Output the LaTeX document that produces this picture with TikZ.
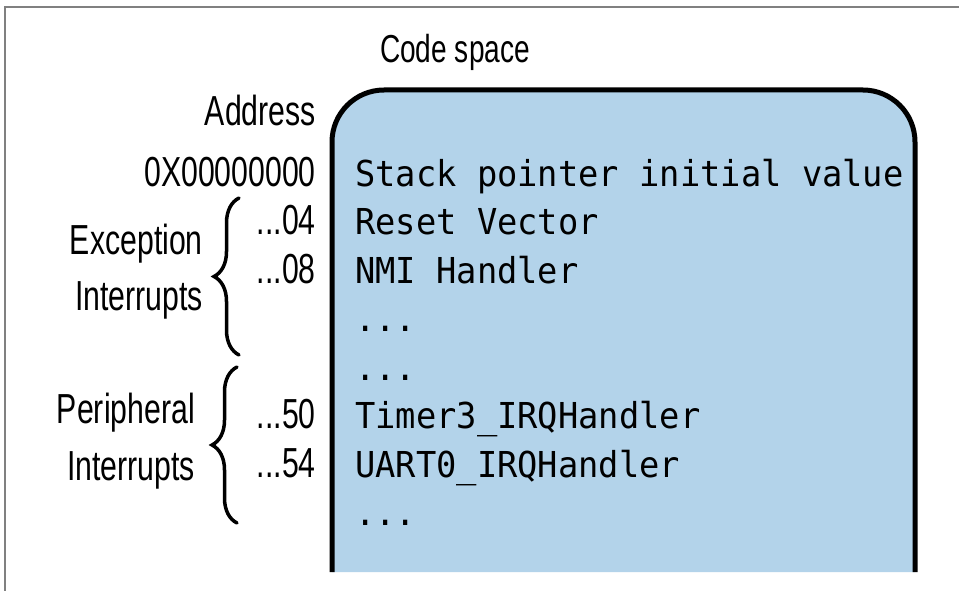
\documentclass[tikz,border=0pt]{standalone}
\usepackage{fontspec}
\setmainfont{Liberation Sans}[FakeStretch=0.72]
\newfontfamily\codefont{DejaVu Sans Mono}[FakeStretch=0.945]
\usetikzlibrary{decorations.pathreplacing}
\definecolor{boxblue}{RGB}{179,211,234}
\definecolor{framegray}{RGB}{128,128,128}
\begin{document}
\begin{tikzpicture}[x=1pt,y=-1pt,
  lbl/.style={font=\fontsize{42}{44}\selectfont, inner sep=0pt},
  titlelbl/.style={font=\fontsize{39}{41}\selectfont, inner sep=0pt, anchor=base},
  codeline/.style={font=\codefont\fontsize{35.7}{38}\selectfont, inner sep=0pt, anchor=base west},
  addr/.style={lbl, anchor=base east},
  grp/.style={lbl, anchor=base east},
  bracestyle/.style={decorate, decoration={brace, amplitude=25pt}, line width=3.5pt, line cap=round}]
\useasboundingbox (0,0) rectangle (959,591);
% frame
\draw[framegray, line width=2] (5,591) -- (5,7) -- (959,7);
% code space box (open at bottom)
\fill[boxblue, rounded corners=52] (332,572) -- (332,90) -- (915,90) -- (915,572);
\draw[line width=5, rounded corners=52] (332,572) -- (332,90) -- (915,90) -- (915,572);
% title
\node[titlelbl] (title) at (455,63) {Code space};
% code lines
\node[codeline] (c1) at (355,186) {Stack pointer initial value};
\node[codeline] (c2) at (355,234.5) {Reset Vector};
\node[codeline] (c3) at (355,283) {NMI Handler};
\node[codeline] (c4) at (355,331.5) {...};
\node[codeline] (c5) at (355,380) {...};
\node[codeline] (c6) at (355,428.5) {Timer3\_IRQHandler};
\node[codeline] (c7) at (355,477) {UART0\_IRQHandler};
\node[codeline] (c8) at (355,525.5) {...};
% addresses
\node[addr] (a0) at (316,126) {Address};
\node[addr] (a1) at (316,186) {0X00000000};
\node[addr] (a2) at (316,234.5) {...04};
\node[addr] (a3) at (316,283) {...08};
\node[addr] (a4) at (316,428.5) {...50};
\node[addr] (a5) at (316,477) {...54};
% group labels
\node[grp] (g1) at (203,254) {Exception};
\node[grp] (g2) at (203,310) {Interrupts};
\node[grp] (g3) at (195,423) {Peripheral};
\node[grp] (g4) at (195,480) {Interrupts};
% braces
\coordinate (eb) at (239,355);
\coordinate (et) at (239,198);
\coordinate (pb) at (237,523);
\coordinate (pt) at (237,367);
\draw[bracestyle] (eb) -- (et);
\draw[bracestyle] (pb) -- (pt);
\end{tikzpicture}
\end{document}
